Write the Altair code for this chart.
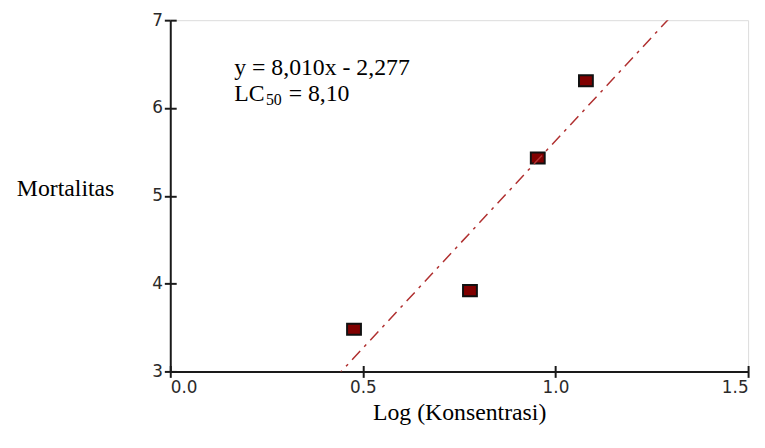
import altair as alt
import pandas as pd

# data
log_konsentrasi = [0.477, 0.778, 0.954, 1.079]
mortalitas = [3.48, 3.92, 5.43, 6.31]
x_ticks = [0.0, 0.5, 1.0, 1.5]
y_ticks = [3, 4, 5, 6, 7]
eq_line1 = "y = 8,010x - 2,277"
lc_parts = ["LC", "50", "= 8,10"]
eq_x = 0.166
eq_y1 = 6.37
eq_y2 = 6.075

df = pd.DataFrame({"x": log_konsentrasi, "y": mortalitas})
ann1 = pd.DataFrame({"t": [eq_line1], "x": [eq_x], "y": [eq_y1]})
ann2 = pd.DataFrame({"t": lc_parts, "x": [eq_x] * 3, "y": [eq_y2] * 3})

xs = alt.Scale(domain=[0, 1.5], nice=False, zero=False)
ys = alt.Scale(domain=[3, 7], nice=False, zero=False)

SERIF = "Liberation Serif"
axis_common = dict(
    domainColor="#1a1a1a", domainWidth=2, tickColor="#1a1a1a", tickWidth=2,
    tickSize=6, labelFont="DejaVu Sans", labelFontSize=17, labelColor="#2a2a2a",
    grid=False, titleFont=SERIF, titleFontSize=24,
    titleFontWeight="normal", titleColor="#000000",
)

x_axis = alt.Axis(values=x_ticks, format=".1f", title="Log (Konsentrasi)",
                  labelPadding=2, titlePadding=6, **axis_common)
y_axis = alt.Axis(values=y_ticks, format="d", title="Mortalitas",
                  titleAngle=0, titleAlign="right", titleBaseline="alphabetic",
                  titleX=-57, titleY=177, labelPadding=2, **axis_common)

inner_common = dict(offset=-6, tickSize=6, tickWidth=2, tickColor="#1a1a1a",
                    domain=False, labels=False, title=None, grid=False)

base = alt.Chart(df)

line = base.transform_regression("x", "y", extent=[0, 1.5]).mark_line(
    clip=True, color="#b03030", strokeWidth=1.5, strokeDash=[12, 6, 3, 6]
).encode(
    x=alt.X("x:Q", scale=xs, axis=alt.Axis(values=x_ticks, orient="bottom", **inner_common)),
    y=alt.Y("y:Q", scale=ys, axis=alt.Axis(values=y_ticks, orient="left", **inner_common)),
)

pts = base.mark_point(
    shape="M-1,-0.8H1V0.8H-1Z", filled=True, size=196, fill="#800000",
    stroke="#111111", strokeWidth=2, opacity=1
).encode(
    x=alt.X("x:Q", scale=xs, axis=x_axis),
    y=alt.Y("y:Q", scale=ys, axis=y_axis),
)

enc_txt = dict(
    x=alt.X("x:Q", scale=xs, axis=None),
    y=alt.Y("y:Q", scale=ys, axis=None),
    text="t:N",
)

txt1 = alt.Chart(ann1).mark_text(
    align="left", baseline="alphabetic", font=SERIF, fontSize=24, color="#000000"
).encode(**enc_txt)

lc_main = alt.Chart(ann2).transform_filter(alt.datum.t == lc_parts[0]).mark_text(
    align="left", baseline="alphabetic", font=SERIF, fontSize=24, color="#000000"
).encode(**enc_txt)

lc_sub = alt.Chart(ann2).transform_filter(alt.datum.t == lc_parts[1]).mark_text(
    align="left", baseline="alphabetic", font=SERIF, fontSize=16, color="#000000",
    dx=32, dy=4
).encode(**enc_txt)

lc_rest = alt.Chart(ann2).transform_filter(alt.datum.t == lc_parts[2]).mark_text(
    align="left", baseline="alphabetic", font=SERIF, fontSize=24, color="#000000",
    dx=55
).encode(**enc_txt)

chart = alt.layer(pts, line, txt1, lc_main, lc_sub, lc_rest).resolve_axis(
    x="independent", y="independent"
).properties(
    width=584, height=355,
    autosize=alt.AutoSizeParams(type="none"),
    padding={"left": 164, "top": 10, "right": 9, "bottom": 67},
).configure_view(stroke=None).configure(background="white")

chart.save("out.html", embed_options={"renderer": "svg", "actions": False})
